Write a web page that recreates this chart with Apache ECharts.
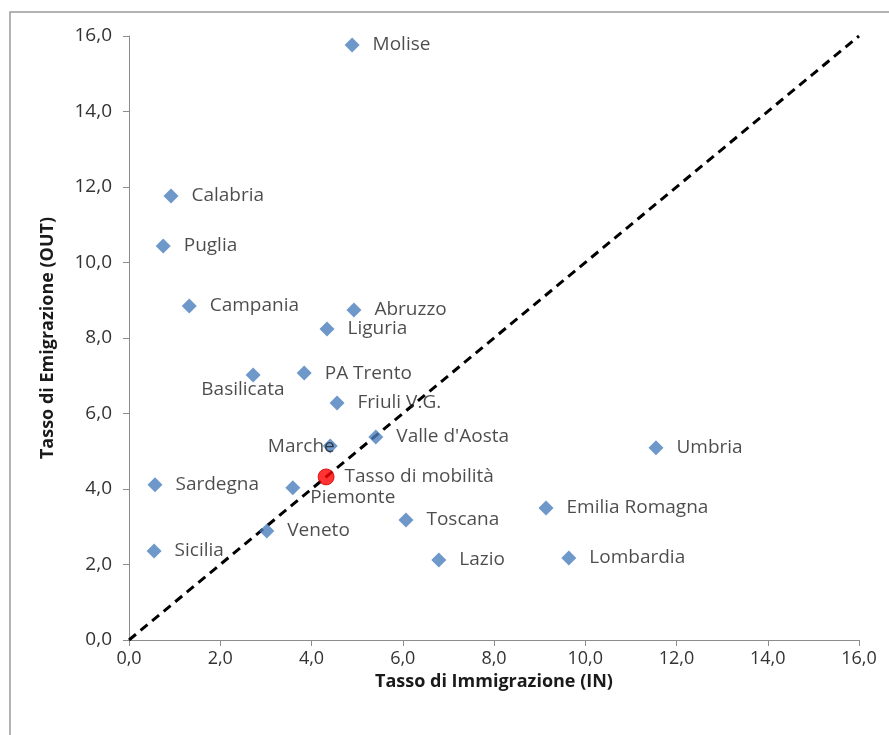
<!DOCTYPE html>
<html>
<head>
<meta charset="utf-8">
<script src="https://cdn.jsdelivr.net/npm/echarts@6/dist/echarts.min.js"></script>
<style>
  html, body { margin: 0; padding: 0; background: #fff; }
  #chart { width: 889px; height: 735px; }
</style>
</head>
<body>
<div id="chart"></div>
<script>
// regioni: tasso di immigrazione (IN) e di emigrazione (OUT)
var regioni = ['Molise', 'Calabria', 'Puglia', 'Campania', 'Abruzzo', 'Liguria', 'Basilicata',
  'PA Trento', "Friuli V.G.", "Valle d'Aosta", 'Marche', 'Sardegna', 'Piemonte', 'Veneto',
  'Sicilia', 'Toscana', 'Lazio', 'Emilia Romagna', 'Lombardia', 'Umbria']
var tassoIn = [4.89, 0.92, 0.75, 1.32, 4.93, 4.34, 2.72, 3.84, 4.56, 5.41, 4.41, 0.57, 3.59, 3.02,
  0.55, 6.07, 6.79, 9.14, 9.64, 11.55]
var tassoOut = [15.76, 11.76, 10.44, 8.85, 8.74, 8.24, 7.02, 7.07, 6.28, 5.38, 5.14, 4.11, 4.03, 2.89,
  2.36, 3.18, 2.12, 3.50, 2.17, 5.09]

var mediaNome = 'Tasso di mobilità'
var mediaIn = 4.32
var mediaOut = 4.32

var diagonale = [0, 16]

// etichette spostate a mano come nell'originale
var labelSpeciali = {
  'Basilicata': { position: 'left', offset: [52, 15] },
  'Marche': { position: 'left', offset: [25, 1] },
  'Piemonte': { position: 'right', offset: [-3, 10] }
}

var fmt = function (v) { return v.toFixed(1).replace('.', ',') }

var punti = []
for (var i = 0; i < regioni.length; i++) {
  var p = { name: regioni[i], value: [tassoIn[i], tassoOut[i]] }
  if (labelSpeciali[regioni[i]]) p.label = labelSpeciali[regioni[i]]
  punti.push(p)
}

var myChart = echarts.init(document.getElementById('chart'))
var option = {
  backgroundColor: '#fff',
  animation: false,
  textStyle: { fontFamily: 'Open Sans' },
  graphic: [{
    type: 'rect',
    shape: { x: 10, y: 12, width: 900, height: 760 },
    style: { fill: 'none', stroke: '#9a9a9a', lineWidth: 1.5 },
    z: -1
  }],
  grid: { left: 129, right: 30, top: 36, bottom: 95 },
  xAxis: {
    type: 'value', min: 0, max: 16, interval: 2,
    name: 'Tasso di Immigrazione (IN)',
    nameLocation: 'middle', nameGap: 23,
    nameTextStyle: { fontWeight: 'bold', fontSize: 18, color: '#1a1a1a' },
    splitLine: { show: false },
    axisLine: { lineStyle: { color: '#8c8c8c' } },
    axisTick: { show: true, length: 6, lineStyle: { color: '#8c8c8c' } },
    axisLabel: { formatter: fmt, fontSize: 18, color: '#333', margin: 10 }
  },
  yAxis: {
    type: 'value', min: 0, max: 16, interval: 2,
    name: 'Tasso di Emigrazione (OUT)',
    nameLocation: 'middle', nameGap: 72,
    nameTextStyle: { fontWeight: 'bold', fontSize: 18, color: '#1a1a1a' },
    splitLine: { show: false },
    axisLine: { show: true, lineStyle: { color: '#8c8c8c' } },
    axisTick: { show: true, length: 6, lineStyle: { color: '#8c8c8c' } },
    axisLabel: { formatter: fmt, fontSize: 19, color: '#333', margin: 17 }
  },
  series: [
    {
      type: 'line',
      data: [[diagonale[0], diagonale[0]], [diagonale[1], diagonale[1]]],
      symbol: 'none',
      lineStyle: { color: '#000', width: 3, type: [9, 6] },
      silent: true,
      z: 1
    },
    {
      type: 'scatter',
      data: punti,
      symbol: 'diamond',
      symbolSize: 15,
      itemStyle: { color: '#4a7dbd' },
      label: {
        show: true, position: 'right', distance: 13,
        formatter: '{b}', fontSize: 19, color: '#1f1f1f'
      },
      z: 3
    },
    {
      type: 'scatter',
      data: [{ name: mediaNome, value: [mediaIn, mediaOut] }],
      symbol: 'circle',
      symbolSize: 16,
      itemStyle: { color: '#ff0000', borderColor: '#d00000', borderWidth: 1 },
      label: {
        show: true, position: 'right', distance: 10,
        formatter: '{b}', fontSize: 19, color: '#1f1f1f'
      },
      z: 4
    }
  ]
}
myChart.setOption(option)
</script>
</body>
</html>
